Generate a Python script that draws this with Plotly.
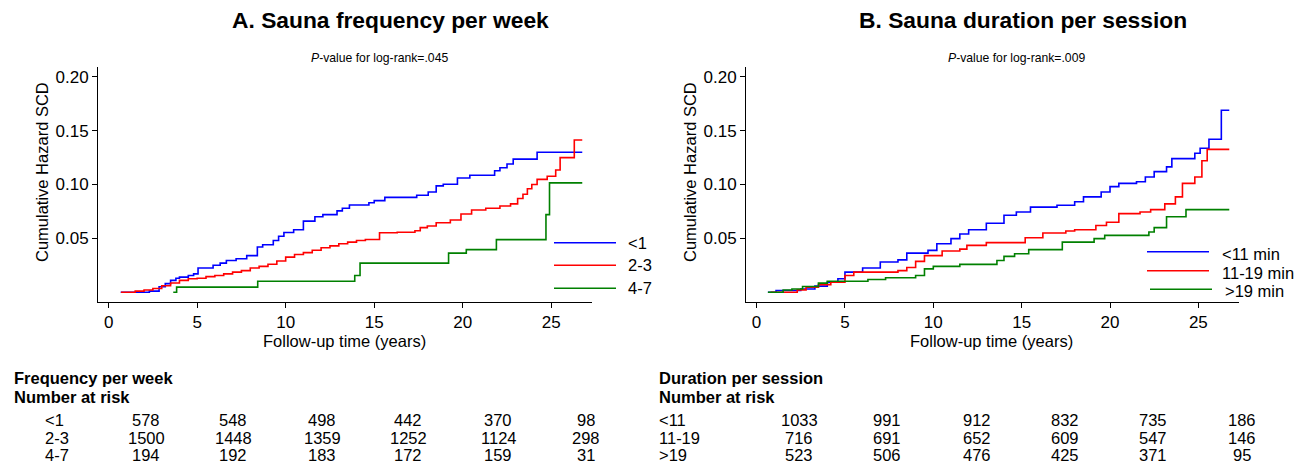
import plotly.graph_objects as go

W, H = 1310, 471

# ---------------- data ----------------
# Panel A: Sauna frequency per week
a_lt1_t = [0.68, 2.3, 2.85, 3.2, 3.5, 3.8, 4.0, 4.5, 4.8, 5.05, 5.9, 6.3, 6.65, 7.2, 7.8, 8.4, 8.7, 9.3, 9.6, 9.9,
           10.45, 11.0, 11.65, 12.1, 12.9, 13.2, 13.6, 14.7, 15.0, 15.6, 17.4, 18.05, 18.5, 18.9, 19.7, 20.4, 21.8,
           22.1, 22.5, 22.85, 24.2, 26.75]
a_lt1_y = [0.0, 0.001, 0.005, 0.008, 0.011, 0.013, 0.014, 0.0155, 0.017, 0.0224, 0.025, 0.027, 0.0295, 0.031, 0.034,
           0.042, 0.044, 0.048, 0.052, 0.0555, 0.058, 0.066, 0.070, 0.072, 0.0755, 0.078, 0.081, 0.083, 0.085, 0.088,
           0.090, 0.093, 0.0987, 0.1003, 0.106, 0.1086, 0.1127, 0.1155, 0.119, 0.1236, 0.130, 0.130]

a_23_t = [0.7, 1.5, 2.0, 2.5, 3.0, 3.5, 4.0, 4.5, 5.0, 5.5, 6.0, 6.5, 7.0, 7.5, 8.0, 8.5, 9.0, 9.5, 10.0, 10.5, 11.0,
          11.5, 12.0, 12.5, 13.0, 13.5, 14.0, 14.5, 15.3, 16.3, 17.3, 17.6, 18.0, 18.5, 19.3, 19.9, 20.5, 21.3, 22.1,
          22.7, 23.1, 23.4, 23.65, 23.9, 24.2, 24.77, 25.25, 25.5, 26.3, 26.75]
a_23_y = [0.0, 0.001, 0.002, 0.0035, 0.006, 0.0085, 0.011, 0.0125, 0.013, 0.0145, 0.0155, 0.017, 0.0186, 0.020,
          0.0224, 0.024, 0.026, 0.029, 0.0326, 0.035, 0.0367, 0.039, 0.0413, 0.043, 0.045, 0.0465, 0.048, 0.049,
          0.0552, 0.0556, 0.057, 0.060, 0.0615, 0.0645, 0.067, 0.0726, 0.0763, 0.078, 0.080, 0.082, 0.087, 0.091,
          0.096, 0.100, 0.1048, 0.1077, 0.1135, 0.125, 0.1413, 0.1413]

a_47_t = [3.65, 3.84, 8.42, 13.9, 14.2, 19.2, 20.2, 21.9, 24.7, 24.9, 26.75]
a_47_y = [0.0, 0.0047, 0.0102, 0.0155, 0.027, 0.0363, 0.0395, 0.0488, 0.072, 0.1015, 0.1015]

# Panel B: Sauna duration per session
b_lt11_t = [0.64, 1.1, 2.5, 3.3, 4.0, 4.6, 5.0, 6.0, 7.0, 8.0, 8.5, 9.7, 10.2, 11.0, 11.5, 12.0, 13.0, 14.0, 14.7,
            15.5, 17.0, 18.0, 18.5, 19.5, 20.0, 20.5, 21.5, 22.0, 22.5, 23.2, 23.5, 24.8, 25.1, 25.6, 26.3, 26.75]
b_lt11_y = [0.0, 0.0016, 0.003, 0.0056, 0.0093, 0.0125, 0.0186, 0.0224, 0.028, 0.030, 0.0363, 0.0388, 0.045, 0.0497,
            0.054, 0.058, 0.064, 0.0714, 0.0745, 0.079, 0.0807, 0.084, 0.0885, 0.0931, 0.098, 0.101, 0.1025, 0.107,
            0.112, 0.1164, 0.124, 0.129, 0.1336, 0.142, 0.169, 0.169]

b_1119_t = [0.8, 2.3, 2.8, 3.5, 4.2, 5.0, 5.5, 8.0, 8.5, 9.0, 9.5, 10.5, 11.5, 11.9, 13.0, 15.2, 16.2, 17.5, 18.0,
            19.2, 19.8, 20.5, 21.7, 22.3, 23.1, 23.7, 24.1, 24.8, 25.2, 25.5, 26.75]
b_1119_y = [0.0, 0.0022, 0.0047, 0.007, 0.0093, 0.0155, 0.0186, 0.020, 0.023, 0.0286, 0.034, 0.0382, 0.040, 0.0435,
            0.046, 0.0506, 0.055, 0.0568, 0.058, 0.062, 0.065, 0.073, 0.0745, 0.0767, 0.082, 0.0885, 0.101, 0.107,
            0.122, 0.1326, 0.1326]

b_gt19_t = [0.64, 1.5, 2.0, 2.6, 3.5, 4.0, 6.3, 7.3, 9.0, 9.5, 10.0, 11.5, 13.6, 14.0, 14.6, 15.4, 17.3, 19.1, 19.7,
            22.2, 22.5, 23.2, 24.3, 26.75]
b_gt19_y = [0.0, 0.002, 0.003, 0.0053, 0.0084, 0.0102, 0.0118, 0.0134, 0.0155, 0.0217, 0.024, 0.0258, 0.0295, 0.0333,
            0.0357, 0.0395, 0.0465, 0.0497, 0.0528, 0.0559, 0.060, 0.070, 0.0767, 0.0767]

# Legend labels
a_labels = ["<1", "2-3", "4-7"]
b_labels = ["<11 min", "11-19 min", ">19 min"]

# Number at risk tables
a_risk_rows = ["<1", "2-3", "4-7"]
a_risk = [[578, 548, 498, 442, 370, 98],
          [1500, 1448, 1359, 1252, 1124, 298],
          [194, 192, 183, 172, 159, 31]]
b_risk_rows = ["<11", "11-19", ">19"]
b_risk = [[1033, 991, 912, 832, 735, 186],
          [716, 691, 652, 609, 547, 146],
          [523, 506, 476, 425, 371, 95]]

x_ticks = [0, 5, 10, 15, 20, 25]
y_ticks = [0.05, 0.10, 0.15, 0.20]
y_ticktext = ["0.05", "0.10", "0.15", "0.20"]

colors = ["#0000ff", "#ff0000", "#008000"]
FONT = "Liberation Sans, Arial, sans-serif"


def px(x):
    return x / W


def py(y):
    return 1 - y / H


fig = go.Figure()

seriesA = [(a_lt1_t, a_lt1_y), (a_23_t, a_23_y), (a_47_t, a_47_y)]
seriesB = [(b_lt11_t, b_lt11_y), (b_1119_t, b_1119_y), (b_gt19_t, b_gt19_y)]
for (t, y), c in zip(seriesA, colors):
    fig.add_trace(go.Scatter(x=t, y=y, mode="lines", line=dict(color=c, width=1.6, shape="hv"),
                             xaxis="x", yaxis="y", showlegend=False, hoverinfo="skip"))
for (t, y), c in zip(seriesB, colors):
    fig.add_trace(go.Scatter(x=t, y=y, mode="lines", line=dict(color=c, width=1.6, shape="hv"),
                             xaxis="x2", yaxis="y2", showlegend=False, hoverinfo="skip"))

axis_common = dict(showgrid=False, zeroline=False, showline=True, linecolor="black", linewidth=1,
                   ticks="outside", ticklen=5, tickcolor="black", tickwidth=1,
                   tickfont=dict(family=FONT, size=17, color="black"))
x_range = [-0.6, 27.3]
y_range = [-0.0091, 0.2091]
ydom = [py(302), py(67)]

fig.update_layout(
    width=W, height=H,
    margin=dict(l=0, r=0, t=0, b=0),
    paper_bgcolor="white", plot_bgcolor="white",
    font=dict(family=FONT, color="black"),
    xaxis=dict(domain=[px(98), px(592)], range=x_range, tickvals=x_ticks, anchor="y", **axis_common),
    yaxis=dict(domain=ydom, range=y_range, tickvals=y_ticks, ticktext=y_ticktext, anchor="x", **axis_common),
    xaxis2=dict(domain=[px(746), px(1239)], range=x_range, tickvals=x_ticks, anchor="y2", **axis_common),
    yaxis2=dict(domain=ydom, range=y_range, tickvals=y_ticks, ticktext=y_ticktext, anchor="x2", **axis_common),
)

ann = []
shapes = []


def text(x, y, s, size, xanchor="center", bold=False, angle=0):
    ann.append(dict(x=px(x), y=py(y), xref="paper", yref="paper", text=(f"<b>{s}</b>" if bold else s),
                    showarrow=False, xanchor=xanchor, yanchor="middle", textangle=angle,
                    font=dict(family=FONT, size=size, color="black")))


# titles
text(391, 20, "A. Sauna frequency per week", 22.8, bold=True)
text(1023, 20, "B. Sauna duration per session", 22.8, bold=True)
text(379, 58, "<i>P</i>-value for log-rank=.045", 12.2)
text(1016, 58, "<i>P</i>-value for log-rank=.009", 12.2)

# axis titles
text(42, 172, "Cumulative Hazard SCD", 16.5, angle=-90)
text(690, 172, "Cumulative Hazard SCD", 16.5, angle=-90)
text(344, 341, "Follow-up time (years)", 16.5)
text(991, 341, "Follow-up time (years)", 16.5)

# legends
a_leg_y = [242.7, 265.3, 288.3]
for lab, yy, c in zip(a_labels, a_leg_y, colors):
    shapes.append(dict(type="line", xref="paper", yref="paper", x0=px(554), x1=px(616), y0=py(yy), y1=py(yy),
                       line=dict(color=c, width=1.6)))
    text(626, yy, lab, 16.5, xanchor="left")
b_leg_y = [251.7, 270.7, 289.3]
b_leg_x0 = [1147, 1147, 1150]
b_txt_x = [1220, 1220, 1223]
for lab, yy, c, x0, tx in zip(b_labels, b_leg_y, colors, b_leg_x0, b_txt_x):
    shapes.append(dict(type="line", xref="paper", yref="paper", x0=px(x0), x1=px(x0 + 62), y0=py(yy), y1=py(yy),
                       line=dict(color=c, width=1.6)))
    text(tx, yy + 2, lab, 16.5, xanchor="left")

# risk tables
row_y = [420, 437.7, 455]
a_cols = [146, 233, 322, 408, 498, 586]
b_cols = [799, 887, 977, 1065, 1153, 1242]
text(12, 378, "Frequency per week", 16.5, xanchor="left", bold=True)
text(12, 397, "Number at risk", 16.5, xanchor="left", bold=True)
text(657, 378, "Duration per session", 16.5, xanchor="left", bold=True)
text(657, 397, "Number at risk", 16.5, xanchor="left", bold=True)
for lab, vals, yy in zip(a_risk_rows, a_risk, row_y):
    text(43, yy, lab, 16.5, xanchor="left")
    for v, xx in zip(vals, a_cols):
        text(xx, yy, str(v), 16.5)
for lab, vals, yy in zip(b_risk_rows, b_risk, row_y):
    text(657, yy, lab, 16.5, xanchor="left")
    for v, xx in zip(vals, b_cols):
        text(xx, yy, str(v), 16.5)

fig.update_layout(annotations=ann, shapes=shapes)
fig.write_html("out.html",
               config={"displayModeBar": False},
               post_script="document.body.style.margin='0px';document.body.style.padding='0px';"
                           "document.body.style.overflow='hidden';")
